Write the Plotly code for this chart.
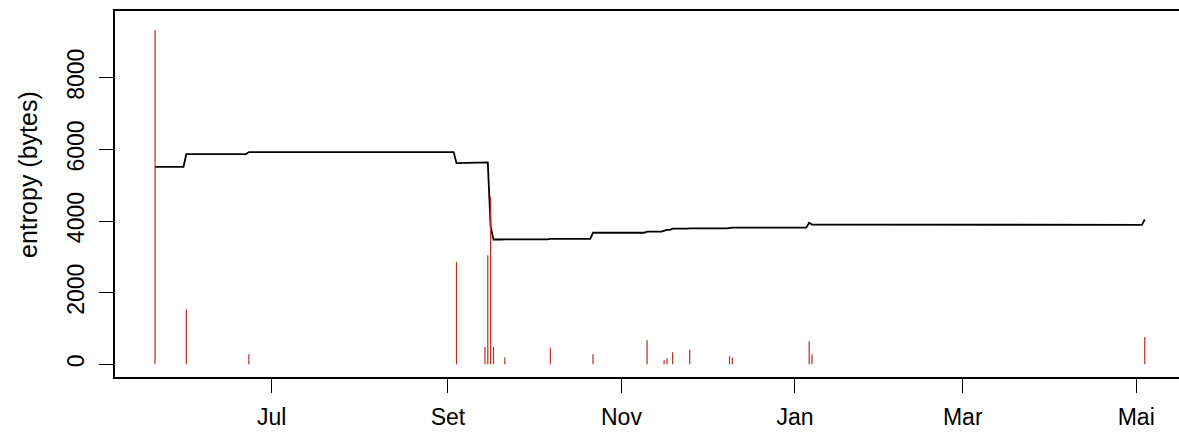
import plotly.graph_objects as go

# Entropy line (black)
line_dates = [
    "2012-05-21", "2012-05-31", "2012-06-01", "2012-06-22", "2012-06-23",
    "2012-09-03", "2012-09-04", "2012-09-14", "2012-09-15", "2012-09-16",
    "2012-09-17", "2012-09-20", "2012-09-21", "2012-10-06", "2012-10-07",
    "2012-10-21", "2012-10-22", "2012-11-09", "2012-11-10", "2012-11-15",
    "2012-11-16", "2012-11-17", "2012-11-18", "2012-11-19", "2012-11-24",
    "2012-11-25", "2012-12-08", "2012-12-09", "2012-12-10", "2013-01-05",
    "2013-01-06", "2013-01-07", "2013-05-03", "2013-05-04",
]
line_values = [
    5513, 5513, 5868, 5868, 5923,
    5923, 5615, 5615, 5635, 3836,
    3484, 3484, 3488, 3488, 3500,
    3500, 3672, 3672, 3705, 3705,
    3728, 3750, 3750, 3785, 3785,
    3795, 3795, 3808, 3815, 3815,
    3950, 3900, 3893, 4043,
]

# Red vertical bars (type = "h")
bar_dates = [
    "2012-05-21", "2012-06-01", "2012-06-23", "2012-09-04", "2012-09-14",
    "2012-09-15", "2012-09-16", "2012-09-17", "2012-09-21", "2012-10-07",
    "2012-10-22", "2012-11-10", "2012-11-16", "2012-11-17", "2012-11-19",
    "2012-11-25", "2012-12-09", "2012-12-10", "2013-01-06", "2013-01-07",
    "2013-05-04",
]
bar_values = [
    9330, 1530, 280, 2860, 485,
    3046, 4675, 485, 187, 465,
    280, 670, 112, 168, 335,
    410, 224, 187, 643, 280,
    763,
]

tick_dates = ["2012-07-01", "2012-09-01", "2012-11-01", "2013-01-01", "2013-03-01", "2013-05-01"]
tick_labels = ["Jul", "Set", "Nov", "Jan", "Mar", "Mai"]
y_ticks = [0, 2000, 4000, 6000, 8000]

FONT = "Liberation Sans, Arial, Helvetica, sans-serif"

bx, by = [], []
for d, v in zip(bar_dates, bar_values):
    bx += [d, d, None]
    by += [0, v, None]

fig = go.Figure()
fig.add_trace(go.Scatter(x=line_dates, y=line_values, mode="lines",
                         line=dict(color="black", width=1.8), hoverinfo="skip"))
fig.add_trace(go.Scatter(x=bx, y=by, mode="lines",
                         line=dict(color="#BE2A1E", width=1.2), hoverinfo="skip"))

fig.update_layout(
    width=1179, height=432,
    margin=dict(l=115, r=0, t=11, b=55),
    paper_bgcolor="white", plot_bgcolor="white",
    showlegend=False,
    font=dict(family=FONT, size=23, color="black"),
    xaxis=dict(
        type="date",
        range=["2012-05-06 22:00", "2013-05-16 01:00"],
        tickvals=tick_dates, ticktext=tick_labels,
        ticks="outside", ticklen=14, tickwidth=1.3, tickcolor="black",
        ticklabelstandoff=5,
        showline=True, linecolor="black", linewidth=1.5, mirror=True,
        showgrid=False, zeroline=False,
        tickfont=dict(family=FONT, size=23, color="black"),
    ),
    yaxis=dict(
        range=[-354, 9862],
        tickvals=y_ticks, ticktext=[str(v) for v in y_ticks],
        ticks="outside", ticklen=14, tickwidth=1.3, tickcolor="black",
        tickangle=-90, ticklabelstandoff=6,
        showline=True, linecolor="black", linewidth=1.5, mirror=False,
        showgrid=False, zeroline=False,
        tickfont=dict(family=FONT, size=23, color="black"),
    ),
    annotations=[dict(
        text="entropy (bytes)", xref="paper", yref="paper",
        x=(28 - 115) / 1064, y=(377 - 175) / 366,
        xanchor="center", yanchor="middle", textangle=-90, showarrow=False,
        font=dict(family=FONT, size=25, color="black"),
    )],
)

fig.write_html("out.html", config={"displayModeBar": False},
               post_script="document.body.style.margin='0';")
